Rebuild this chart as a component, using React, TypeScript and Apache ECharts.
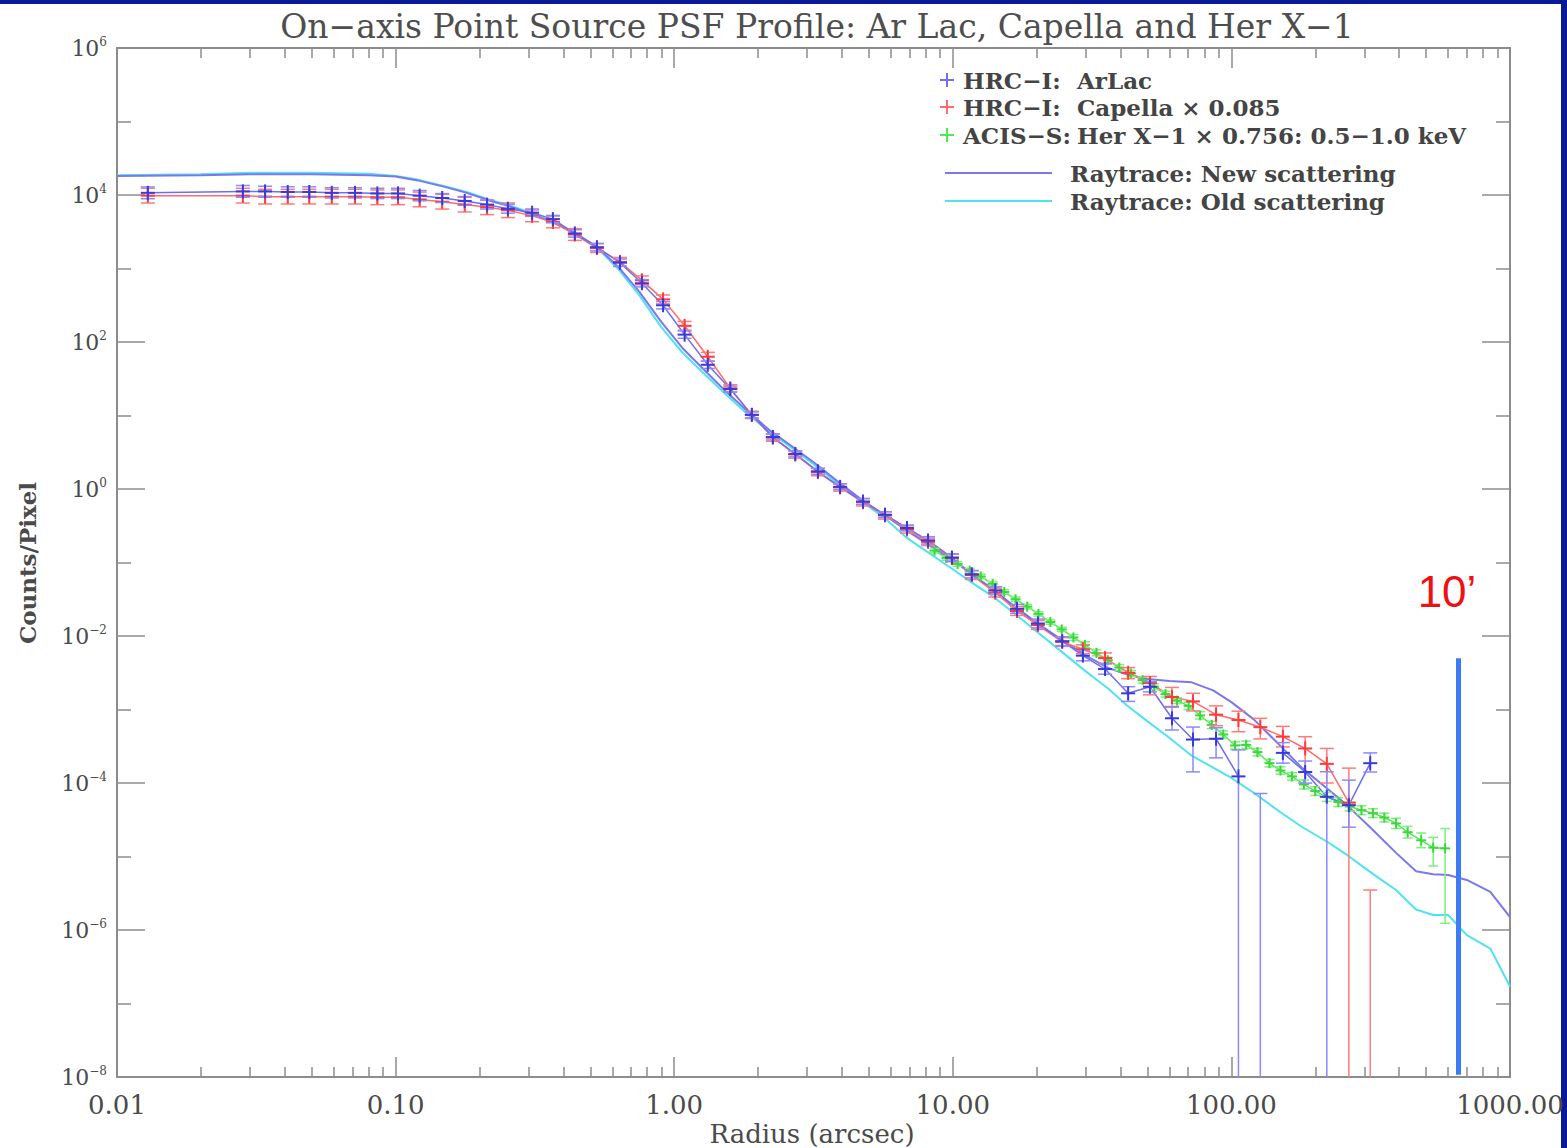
import React, { useEffect, useRef } from "react";
import * as echarts from "echarts";

// ---------- data ----------
// HRC-I ArLac and Capella share the same radial bins (arcsec)
const binRadius = [0.0129, 0.0283, 0.034, 0.041, 0.049, 0.059, 0.0715, 0.086, 0.102, 0.122, 0.147, 0.177, 0.213, 0.253, 0.309, 0.367, 0.44, 0.528, 0.639, 0.766, 0.912, 1.09, 1.32, 1.59, 1.9, 2.26, 2.72, 3.28, 3.94, 4.76, 5.71, 6.85, 8.15, 9.93, 11.7, 14.2, 17.0, 20.2, 24.7, 29.3, 35.2, 42.6, 51.0, 61.2, 72.8, 88.1, 106, 127, 153, 184, 220, 264, 315];

const arlacCounts = [1.07e4, 1.12e4, 1.12e4, 1.1e4, 1.1e4, 1.07e4, 1.07e4, 1.05e4, 1.05e4, 9.8e3, 9.1e3, 8.3e3, 7.4e3, 6.5e3, 5.75e3, 4.7e3, 3.0e3, 1.95e3, 1.2e3, 630, 316, 126, 49, 22.9, 10.2, 5.1, 3.0, 1.74, 1.07, 0.676, 0.447, 0.295, 0.2, 0.117, 0.0692, 0.0417, 0.0234, 0.0148, 0.0085, 0.0054, 0.00355, 0.00166, 0.00204, 7.6e-4, 3.9e-4, 4.0e-4, 1.23e-4, null, 2.57e-4, 1.41e-4, 6.5e-5, 5.0e-5, 1.86e-4];
// error bars, in decades above / below the point (9 = runs off the bottom of the plot)
const arlacErrUpDex = [0.08, 0.08, 0.07, 0.07, 0.07, 0.07, 0.07, 0.07, 0.07, 0.07, 0.06, 0.06, 0.06, 0.06, 0.05, 0.05, 0.05, 0.05, 0.05, 0.05, 0.05, 0.05, 0.05, 0.04, 0.04, 0.04, 0.04, 0.04, 0.04, 0.04, 0.04, 0.04, 0.05, 0.05, 0.05, 0.05, 0.06, 0.06, 0.06, 0.07, 0.07, 0.09, 0.07, 0.16, 0.17, 0.15, 0.36, 0, 0.14, 0.15, 0.34, 0.34, 0.14];
const arlacErrDownDex = [0.08, 0.08, 0.07, 0.07, 0.07, 0.07, 0.07, 0.07, 0.07, 0.07, 0.06, 0.06, 0.06, 0.06, 0.05, 0.05, 0.05, 0.05, 0.05, 0.05, 0.05, 0.05, 0.05, 0.04, 0.04, 0.04, 0.04, 0.04, 0.04, 0.04, 0.04, 0.04, 0.05, 0.05, 0.05, 0.05, 0.06, 0.06, 0.06, 0.07, 0.07, 0.11, 0.07, 0.16, 0.44, 0.26, 9, 0, 0.14, 0.15, 9, 0.3, 0.12];
// bins whose value is off-scale: only the upper end of the error bar shows
const arlacLimitRadius = [127];
const arlacLimitTop = [7.2e-5];

const capellaCounts = [9.8e3, 9.8e3, 9.5e3, 9.5e3, 9.5e3, 9.5e3, 9.5e3, 9.3e3, 9.3e3, 8.7e3, 8.1e3, 7.4e3, 6.8e3, 6.2e3, 5.2e3, 4.3e3, 2.9e3, 1.9e3, 1.23e3, 690, 380, 166, 63, 23.4, 10.2, 5.0, 2.95, 1.7, 1.05, 0.66, 0.437, 0.282, 0.191, 0.115, 0.0676, 0.0389, 0.0219, 0.0141, 0.0083, 0.0066, 0.005, 0.00316, 0.00229, 0.00148, 0.00129, 8.5e-4, 7.2e-4, 5.75e-4, 4.27e-4, 2.95e-4, 1.82e-4, 5.4e-5, null];
const capellaErrUpDex = [0.1, 0.1, 0.1, 0.1, 0.1, 0.1, 0.1, 0.1, 0.1, 0.1, 0.1, 0.1, 0.1, 0.1, 0.08, 0.08, 0.08, 0.06, 0.06, 0.06, 0.06, 0.06, 0.06, 0.05, 0.05, 0.05, 0.05, 0.05, 0.05, 0.05, 0.05, 0.05, 0.05, 0.05, 0.06, 0.06, 0.06, 0.06, 0.06, 0.06, 0.07, 0.07, 0.09, 0.13, 0.11, 0.12, 0.12, 0.12, 0.14, 0.16, 0.21, 0.47, 0];
const capellaErrDownDex = [0.1, 0.1, 0.1, 0.1, 0.1, 0.1, 0.1, 0.1, 0.1, 0.1, 0.1, 0.1, 0.1, 0.1, 0.08, 0.08, 0.08, 0.06, 0.06, 0.06, 0.06, 0.06, 0.06, 0.05, 0.05, 0.05, 0.05, 0.05, 0.05, 0.05, 0.05, 0.05, 0.05, 0.05, 0.06, 0.06, 0.06, 0.06, 0.06, 0.06, 0.07, 0.08, 0.16, 0.14, 0.13, 0.15, 0.16, 0.16, 0.14, 0.32, 0.26, 9, 0];
const capellaLimitRadius = [315];
const capellaLimitTop = [3.5e-6];

// ACIS-S Her X-1
const herRadius = [8.6, 9.5, 10.4, 11.5, 12.6, 13.9, 15.3, 16.8, 18.5, 20.3, 22.4, 24.6, 27.1, 29.8, 32.8, 36.0, 39.6, 43.6, 48.0, 52.8, 58.0, 63.8, 70.2, 77.2, 85.0, 93.5, 103, 113, 124, 137, 150, 165, 182, 200, 220, 242, 266, 293, 322, 354, 390, 429, 480, 530, 585];
const herCounts = [0.145, 0.115, 0.0955, 0.0776, 0.0646, 0.0513, 0.0398, 0.0316, 0.0251, 0.02, 0.0155, 0.0123, 0.00955, 0.00759, 0.00589, 0.00468, 0.00372, 0.00309, 0.00251, 0.00204, 0.00162, 0.00132, 0.00112, 8.32e-4, 6.17e-4, 4.57e-4, 3.24e-4, 3.31e-4, 2.63e-4, 1.86e-4, 1.48e-4, 1.23e-4, 9.55e-5, 7.76e-5, 6.46e-5, 5.5e-5, 4.79e-5, 4.27e-5, 3.89e-5, 3.39e-5, 2.82e-5, 2.14e-5, 1.66e-5, 1.32e-5, 1.29e-5];
const herErrUpDex = [0.03, 0.03, 0.03, 0.03, 0.03, 0.03, 0.03, 0.03, 0.03, 0.03, 0.03, 0.03, 0.04, 0.04, 0.04, 0.04, 0.04, 0.04, 0.04, 0.04, 0.04, 0.04, 0.05, 0.05, 0.05, 0.05, 0.05, 0.05, 0.05, 0.05, 0.05, 0.05, 0.06, 0.06, 0.06, 0.06, 0.06, 0.06, 0.06, 0.06, 0.07, 0.08, 0.1, 0.14, 0.27];
const herErrDownDex = [0.03, 0.03, 0.03, 0.03, 0.03, 0.03, 0.03, 0.03, 0.03, 0.03, 0.03, 0.03, 0.04, 0.04, 0.04, 0.04, 0.04, 0.04, 0.04, 0.04, 0.04, 0.04, 0.05, 0.05, 0.05, 0.05, 0.05, 0.05, 0.05, 0.05, 0.05, 0.05, 0.06, 0.06, 0.06, 0.06, 0.06, 0.06, 0.06, 0.06, 0.07, 0.08, 0.1, 0.25, 1.02];

// Raytrace model curves
const rayRadius = [0.01, 0.02, 0.03, 0.05, 0.08, 0.1, 0.12, 0.15, 0.18, 0.22, 0.26, 0.32, 0.38, 0.45, 0.53, 0.63, 0.75, 0.9, 1.07, 1.28, 1.53, 1.83, 2.2, 2.6, 3.2, 3.9, 4.7, 5.7, 6.8, 8.2, 10, 12, 14, 17, 20, 25, 30, 36, 42, 50, 60, 72, 86, 100, 120, 150, 180, 220, 260, 320, 390, 460, 530, 600, 700, 850, 1000];
const rayNewCounts = [18200, 18600, 19100, 19100, 18600, 17800, 15800, 12900, 10700, 8300, 6900, 5200, 4000, 2900, 1950, 1050, 480, 186, 83, 42, 21.4, 11.5, 6.3, 4.0, 2.24, 1.23, 0.72, 0.44, 0.275, 0.174, 0.107, 0.065, 0.041, 0.024, 0.0151, 0.0085, 0.0054, 0.0037, 0.003, 0.0026, 0.00245, 0.00234, 0.00182, 0.00126, 7.4e-4, 3.2e-4, 1.58e-4, 8.5e-5, 5.0e-5, 2.35e-5, 1.12e-5, 6.3e-6, 5.75e-6, 5.6e-6, 4.8e-6, 3.3e-6, 1.5e-6];
const rayOldCounts = [18600, 19100, 20000, 20000, 19500, 18200, 16200, 13200, 11000, 8500, 7100, 5400, 4000, 2900, 1900, 980, 430, 158, 72, 37, 19.5, 10.5, 6.0, 3.8, 2.1, 1.15, 0.68, 0.4, 0.22, 0.135, 0.081, 0.05, 0.034, 0.019, 0.0115, 0.0058, 0.0033, 0.00195, 0.00115, 6.9e-4, 4.1e-4, 2.35e-4, 1.62e-4, 1.17e-4, 7.4e-5, 4.0e-5, 2.5e-5, 1.6e-5, 1.05e-5, 5.9e-6, 3.5e-6, 1.9e-6, 1.6e-6, 1.6e-6, 8.5e-7, 5.6e-7, 1.7e-7];

// 10 arcmin marker
const tenArcminRadius = 650;
const tenArcminTop = 5.0e-3;
const tenArcminBottom = 1.07e-8;

// axes
const X_MIN = 0.01;
const X_MAX = 1000;
const Y_MIN = 1e-8;
const Y_MAX = 1e6;
const xMajorTicks = [0.01, 0.1, 1, 10, 100, 1000];
const xTickLabels = ["0.01", "0.10", "1.00", "10.00", "100.00", "1000.00"];
const yMajorTicks = [1e-8, 1e-6, 1e-4, 1e-2, 1, 1e2, 1e4, 1e6];
const yMinorTicks = [1e-7, 1e-5, 1e-3, 1e-1, 1e1, 1e3, 1e5];
const xMinorTicks: number[] = [];
for (const d of [0.01, 0.1, 1, 10, 100]) {
  for (let k = 2; k <= 9; k++) xMinorTicks.push(+(k * d).toPrecision(3));
}

const TITLE = "On\u2212axis Point Source PSF Profile: Ar Lac, Capella and Her X\u22121";
const SERIF = '"DejaVu Serif", "Liberation Serif", serif';

const C_BLUE_MARK = "#3a3ad8";
const C_BLUE_LINE = "#6e6ef2";
const C_BLUE_BAR = "#8a8aff";
const C_RED_MARK = "#ff3a3a";
const C_RED_LINE = "#ff6a6a";
const C_RED_BAR = "#ff7a7a";
const C_GREEN_MARK = "#3bd83b";
const C_GREEN_LINE = "#52e852";
const C_GREEN_BAR = "#7cf07c";
const C_RAY_NEW = "#7a78ec";
const C_RAY_OLD = "#4fe3f2";
const AXIS_GRAY = "#8c8c8c";

function errorData(radius: number[], counts: (number | null)[], up: number[], down: number[]) {
  const out: number[][] = [];
  radius.forEach((r, i) => {
    const v = counts[i];
    if (v == null) return;
    out.push([r, v / Math.pow(10, down[i]), v * Math.pow(10, up[i]), v]);
  });
  return out;
}
function limitData(radius: number[], top: number[]) {
  return radius.map((r, i) => [r, Y_MIN / 100, top[i], -1]);
}
function lineData(radius: number[], counts: (number | null)[]) {
  return radius.map((r, i) => [r, counts[i] == null ? "-" : counts[i]]);
}

function makeRender(markColor: string, barColor: string, cap: number, mark: number, barW: number, markW: number) {
  return (_params: any, api: any) => {
    const r = api.value(0);
    const loRaw = api.value(1);
    const lo = Math.max(loRaw, Y_MIN);
    const hi = api.value(2);
    const v = api.value(3);
    const pLo = api.coord([r, lo]);
    const pHi = api.coord([r, hi]);
    const x = pLo[0];
    const bs = { stroke: barColor, lineWidth: barW };
    const children: any[] = [
      { type: "line", shape: { x1: x, y1: pLo[1], x2: x, y2: pHi[1] }, style: bs },
      { type: "line", shape: { x1: x - cap, y1: pHi[1], x2: x + cap, y2: pHi[1] }, style: bs },
    ];
    if (loRaw >= Y_MIN) {
      children.push({ type: "line", shape: { x1: x - cap, y1: pLo[1], x2: x + cap, y2: pLo[1] }, style: bs });
    }
    if (v > 0) {
      const p = api.coord([r, v]);
      const ms = { stroke: markColor, lineWidth: markW };
      children.push({ type: "line", shape: { x1: p[0] - mark, y1: p[1], x2: p[0] + mark, y2: p[1] }, style: ms });
      children.push({ type: "line", shape: { x1: p[0], y1: p[1] - mark, x2: p[0], y2: p[1] + mark }, style: ms });
    }
    return { type: "group", children };
  };
}

function supLabel(v: number) {
  const e = Math.round(Math.log10(v));
  const s = e < 0 ? "\u2212" + -e : String(e);
  return "{b|10}{s|" + s + "}";
}
function xLabel(v: number) {
  const lv = Math.log10(v);
  const i = xMajorTicks.findIndex((t) => Math.abs(Math.log10(t) - lv) < 1e-6);
  return i >= 0 ? xTickLabels[i] : "";
}

function plusMarker(cx: number, cy: number, color: string) {
  return [
    { type: "line", shape: { x1: cx - 7, y1: cy, x2: cx + 7, y2: cy }, style: { stroke: color, lineWidth: 2 } },
    { type: "line", shape: { x1: cx, y1: cy - 7, x2: cx, y2: cy + 7 }, style: { stroke: color, lineWidth: 2 } },
  ];
}
function legendText(x: number, y: number, text: string) {
  return {
    type: "text",
    x,
    y,
    style: { text, font: `bold 23px ${SERIF}`, fill: "#444444", textVerticalAlign: "middle" },
  };
}

export default function App() {
  const ref = useRef<HTMLDivElement>(null);
  useEffect(() => {
    if (!ref.current) return;
    const chart = echarts.init(ref.current, undefined, { renderer: "svg" });

    const logAxisBase = { type: "log", logBase: 10, splitLine: { show: false }, minorTick: { show: false } };
    const xAxes = [
      {
        ...logAxisBase, min: X_MIN, max: X_MAX, position: "bottom",
        axisLine: { show: true, lineStyle: { color: AXIS_GRAY, width: 2 } },
        axisTick: { show: true, inside: true, length: 20, customValues: xMajorTicks, lineStyle: { color: AXIS_GRAY, width: 1.5 } },
        axisLabel: { show: true, customValues: xMajorTicks, formatter: xLabel, margin: 15, fontFamily: SERIF, fontSize: 26, color: "#4a4a4a" },
      },
      {
        ...logAxisBase, min: X_MIN, max: X_MAX, position: "bottom",
        axisLine: { show: false },
        axisTick: { show: true, inside: true, length: 10, customValues: xMinorTicks, lineStyle: { color: AXIS_GRAY, width: 1.5 } },
        axisLabel: { show: false },
      },
      {
        ...logAxisBase, min: X_MIN, max: X_MAX, position: "top",
        axisLine: { show: true, lineStyle: { color: AXIS_GRAY, width: 2 } },
        axisTick: { show: true, inside: true, length: 20, customValues: xMajorTicks, lineStyle: { color: AXIS_GRAY, width: 1.5 } },
        axisLabel: { show: false },
      },
      {
        ...logAxisBase, min: X_MIN, max: X_MAX, position: "top",
        axisLine: { show: false },
        axisTick: { show: true, inside: true, length: 10, customValues: xMinorTicks, lineStyle: { color: AXIS_GRAY, width: 1.5 } },
        axisLabel: { show: false },
      },
    ];
    const yAxes = [
      {
        ...logAxisBase, min: Y_MIN, max: Y_MAX, position: "left",
        axisLine: { show: true, lineStyle: { color: AXIS_GRAY, width: 2 } },
        axisTick: { show: true, inside: true, length: 28, customValues: yMajorTicks, lineStyle: { color: AXIS_GRAY, width: 1.5 } },
        axisLabel: {
          show: true, customValues: yMajorTicks, formatter: supLabel, margin: 10, color: "#4a4a4a",
          rich: {
            b: { fontFamily: SERIF, fontSize: 22, lineHeight: 25, color: "#4a4a4a" },
            s: { fontFamily: SERIF, fontSize: 12, lineHeight: 12, verticalAlign: "top", color: "#4a4a4a" },
          },
        },
      },
      {
        ...logAxisBase, min: Y_MIN, max: Y_MAX, position: "left",
        axisLine: { show: false },
        axisTick: { show: true, inside: true, length: 14, customValues: yMinorTicks, lineStyle: { color: AXIS_GRAY, width: 1.5 } },
        axisLabel: { show: false },
      },
      {
        ...logAxisBase, min: Y_MIN, max: Y_MAX, position: "right",
        axisLine: { show: true, lineStyle: { color: AXIS_GRAY, width: 2 } },
        axisTick: { show: true, inside: true, length: 28, customValues: yMajorTicks, lineStyle: { color: AXIS_GRAY, width: 1.5 } },
        axisLabel: { show: false },
      },
      {
        ...logAxisBase, min: Y_MIN, max: Y_MAX, position: "right",
        axisLine: { show: false },
        axisTick: { show: true, inside: true, length: 14, customValues: yMinorTicks, lineStyle: { color: AXIS_GRAY, width: 1.5 } },
        axisLabel: { show: false },
      },
    ];

    const option: any = {
      animation: false,
      backgroundColor: "transparent",
      title: {
        text: TITLE,
        left: 812,
        top: 5,
        textAlign: "center",
        textStyle: { fontFamily: SERIF, fontSize: 33, fontWeight: "normal", color: "#4e4e4e" },
      },
      grid: { left: 117, top: 48, width: 1393, height: 1029, containLabel: false, outerBoundsMode: "none" },
      xAxis: xAxes,
      yAxis: yAxes,
      series: [
        {
          type: "line", name: "Raytrace: Old scattering", data: lineData(rayRadius, rayOldCounts),
          symbol: "none", lineStyle: { color: C_RAY_OLD, width: 2 }, z: 2,
        },
        {
          type: "line", name: "Raytrace: New scattering", data: lineData(rayRadius, rayNewCounts),
          symbol: "none", lineStyle: { color: C_RAY_NEW, width: 2 }, z: 2,
          markLine: {
            silent: true, symbol: ["none", "none"], label: { show: false },
            lineStyle: { color: "#3b7cf6", width: 5, type: "solid" },
            emphasis: { disabled: true },
            data: [[{ coord: [tenArcminRadius, tenArcminTop] }, { coord: [tenArcminRadius, tenArcminBottom] }]],
          },
        },
        {
          type: "line", name: "ACIS-S: Her X-1", data: lineData(herRadius, herCounts),
          symbol: "none", lineStyle: { color: C_GREEN_LINE, width: 1.5 }, z: 3,
        },
        {
          type: "line", name: "HRC-I: Capella", data: lineData(binRadius, capellaCounts),
          symbol: "none", lineStyle: { color: C_RED_LINE, width: 1.5 }, z: 3,
        },
        {
          type: "line", name: "HRC-I: ArLac", data: lineData(binRadius, arlacCounts),
          symbol: "none", lineStyle: { color: C_BLUE_LINE, width: 1.5 }, z: 3,
        },
        {
          type: "custom", name: "Her X-1 errors", data: errorData(herRadius, herCounts, herErrUpDex, herErrDownDex),
          encode: { x: 0, y: [1, 2] }, z: 4,
          renderItem: makeRender(C_GREEN_MARK, C_GREEN_BAR, 5, 5, 1.5, 2),
        },
        {
          type: "custom", name: "Capella errors",
          data: [...errorData(binRadius, capellaCounts, capellaErrUpDex, capellaErrDownDex), ...limitData(capellaLimitRadius, capellaLimitTop)],
          encode: { x: 0, y: [1, 2] }, z: 4,
          renderItem: makeRender(C_RED_MARK, C_RED_BAR, 7, 7, 1.5, 2),
        },
        {
          type: "custom", name: "ArLac errors",
          data: [...errorData(binRadius, arlacCounts, arlacErrUpDex, arlacErrDownDex), ...limitData(arlacLimitRadius, arlacLimitTop)],
          encode: { x: 0, y: [1, 2] }, z: 5,
          renderItem: makeRender(C_BLUE_MARK, C_BLUE_BAR, 7, 7, 1.5, 2),
        },
      ],
      graphic: [
        ...plusMarker(947, 80, C_BLUE_LINE),
        legendText(963, 80, "HRC\u2212I:"),
        legendText(1077, 80, "ArLac"),
        ...plusMarker(947, 107, C_RED_LINE),
        legendText(963, 107, "HRC\u2212I:"),
        legendText(1077, 107, "Capella \u00d7 0.085"),
        ...plusMarker(947, 135, C_GREEN_LINE),
        legendText(963, 135, "ACIS\u2212S:"),
        legendText(1077, 135, "Her X\u22121 \u00d7 0.756: 0.5\u22121.0 keV"),
        { type: "line", shape: { x1: 945, y1: 173, x2: 1052, y2: 173 }, style: { stroke: C_RAY_NEW, lineWidth: 2 } },
        legendText(1070, 173, "Raytrace: New scattering"),
        { type: "line", shape: { x1: 945, y1: 201, x2: 1052, y2: 201 }, style: { stroke: C_RAY_OLD, lineWidth: 2 } },
        legendText(1070, 201, "Raytrace: Old scattering"),
        {
          type: "text", x: 812, y: 1134,
          style: { text: "Radius (arcsec)", font: `26px ${SERIF}`, fill: "#4a4a4a", textAlign: "center", textVerticalAlign: "middle" },
        },
        {
          type: "text", x: 27, y: 563, rotation: Math.PI / 2,
          style: { text: "Counts/Pixel", font: `bold 23px ${SERIF}`, fill: "#4a4a4a", textAlign: "center", textVerticalAlign: "middle" },
        },
        {
          type: "text", x: 1447, y: 591,
          style: { text: "10\u2019", font: `44px "Liberation Sans", Arial, sans-serif`, fill: "#ee1111", textAlign: "center", textVerticalAlign: "middle" },
        },
      ],
    };
    chart.setOption(option);
    return () => chart.dispose();
  }, []);

  return (
    <div style={{ position: "fixed", left: 0, top: 0, width: 1567, height: 1148, background: "#0a1a96", overflow: "hidden" }}>
      <div style={{ position: "absolute", left: 0, top: 4, width: 1561, height: 1144, background: "#ffffff" }} />
      <div ref={ref} style={{ position: "absolute", left: 0, top: 0, width: 1567, height: 1148 }} />
    </div>
  );
}
